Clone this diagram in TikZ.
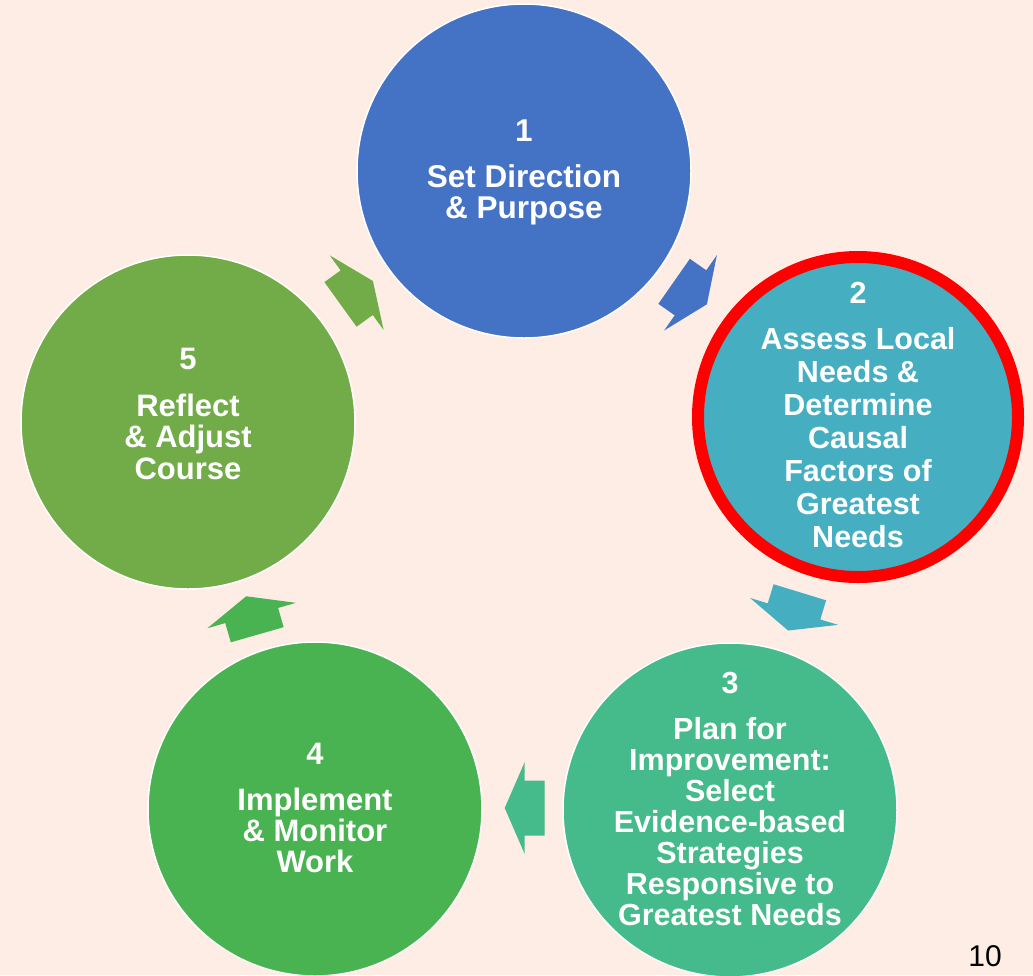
\documentclass[tikz,border=0pt]{standalone}
\usepackage{fontspec}
\setmainfont{Liberation Sans}
\definecolor{bg}{HTML}{FDEDE4}
\definecolor{cA}{HTML}{4472C4}
\definecolor{cB}{HTML}{45AEC1}
\definecolor{cC}{HTML}{45BA8B}
\definecolor{cD}{HTML}{49B351}
\definecolor{cE}{HTML}{71AC48}
\tikzset{
  circ/.style={circle, draw=white, line width=1.5pt, minimum size=334pt, inner sep=0pt},
  lbl/.style={text=white, font=\bfseries\fontsize{30.5}{31}\selectfont, align=center, anchor=north, inner sep=0pt},
  blockarrow/.pic={\fill (-20,-27.5) -- (0,-27.5) -- (0,-46) -- (20,0) -- (0,46) -- (0,27.5) -- (-20,27.5) -- cycle;}
}
\begin{document}
\begin{tikzpicture}[x=1pt,y=-1pt]
\path[use as bounding box, fill=bg] (0,0) rectangle (1033,975);
\clip (0,0) rectangle (1033,975);
% circles
\node[circ, fill=cA] (n1) at (524,171) {};
\node[circ, fill=cB, draw=red, line width=12pt, minimum size=320pt] (n2) at (858,417) {};
\node[circ, fill=cC] (n3) at (730,810) {};
\node[circ, fill=cD] (n4) at (315,809) {};
\node[circ, fill=cE] (n5) at (188,422) {};
% labels
\node[lbl, font=\bfseries\fontsize{31.5}{31}\selectfont] (t1) at (524,120) {1\\[15pt]Set Direction\\\& Purpose};
\node[lbl, font=\bfseries\fontsize{30.5}{33}\selectfont] (t2) at (858,282) {2\\[13pt]Assess Local\\Needs \&\\Determine\\Causal\\Factors of\\Greatest\\Needs};
\node[lbl] (t3) at (730,672) {3\\[15pt]Plan for\\Improvement:\\Select\\Evidence-based\\Strategies\\Responsive to\\Greatest Needs};
\node[lbl, font=\bfseries\fontsize{31}{31}\selectfont] (t4) at (315,743) {4\\[15pt]Implement\\\& Monitor\\Work};
\node[lbl, font=\bfseries\fontsize{31}{31.5}\selectfont] (t5) at (188,348) {5\\[15pt]Reflect\\\& Adjust\\Course};
% arrows
\pic[cA, shift={(690.5,292.8)}, rotate=-35] (a1) {blockarrow};
\pic[cB, shift={(794,611.4)}, rotate=-107] (a2) {blockarrow};
\pic[cC, shift={(524.7,808)}, rotate=180] (a3) {blockarrow};
\pic[cD, shift={(251.7,615.5)}, rotate=106] (a4) {blockarrow};
\pic[cE, shift={(356.7,292.7)}, rotate=35.8] (a5) {blockarrow};
% page number
\node[font=\fontsize{30}{30}\selectfont, anchor=base, inner sep=0pt] (pg) at (985,966) {10};
\end{tikzpicture}
\end{document}
